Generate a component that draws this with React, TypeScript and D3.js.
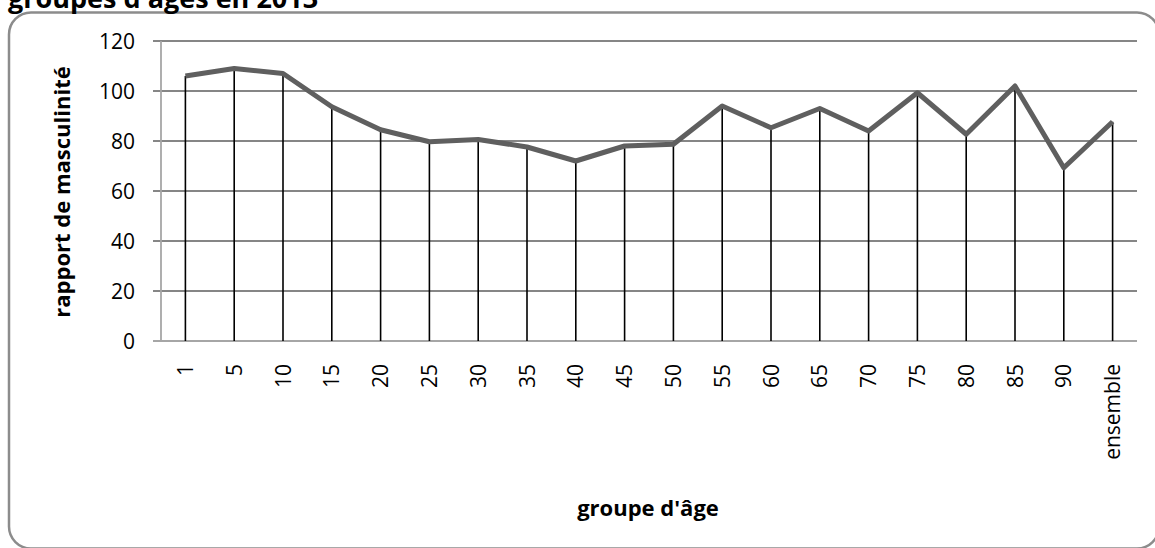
import { useEffect, useRef } from 'react';
import * as d3 from 'd3';

const categories = ['1', '5', '10', '15', '20', '25', '30', '35', '40', '45', '50', '55', '60', '65', '70', '75', '80', '85', '90', 'ensemble'];
const ratios = [106, 109, 107, 93.7, 84.5, 79.7, 80.6, 77.6, 72, 78, 78.7, 94, 85.3, 93, 84, 99.3, 82.7, 102, 69.3, 87.7];
const yTicks = [0, 20, 40, 60, 80, 100, 120];

const title = "groupes d'âges en 2013";
const yTitle = 'rapport de masculinité';
const xTitle = "groupe d'âge";

const App = () => {
  const ref = useRef<SVGSVGElement | null>(null);

  useEffect(() => {
    if (!ref.current) return;
    const svg = d3.select(ref.current);
    svg.selectAll('*').remove();

    const font = "'Open Sans', sans-serif";
    const left = 161, right = 1137, top = 41, bottom = 341;

    // cadre arrondi
    svg.append('rect')
      .attr('x', 9).attr('y', 12.5)
      .attr('width', 1150).attr('height', 536)
      .attr('rx', 22).attr('ry', 22)
      .attr('fill', 'none')
      .attr('stroke', '#8c8c8c')
      .attr('stroke-width', 2.5);

    svg.append('text')
      .attr('x', 8).attr('y', 8)
      .attr('font-family', font)
      .attr('font-weight', 'bold')
      .attr('font-size', 27)
      .attr('fill', '#000')
      .text(title);

    const x = d3.scaleBand().domain(categories).range([left, right]);
    const y = d3.scaleLinear().domain([0, 120]).range([bottom, top]);
    const cx = (c: string) => (x(c) || 0) + x.bandwidth() / 2;

    // grille
    svg.append('g')
      .selectAll('line')
      .data(yTicks.filter(t => t > 0))
      .join('line')
      .attr('x1', left - 8).attr('x2', right)
      .attr('y1', d => y(d)).attr('y2', d => y(d))
      .attr('stroke', '#868686')
      .attr('stroke-width', 1.8);

    // axes
    svg.append('line')
      .attr('x1', left).attr('x2', left)
      .attr('y1', top).attr('y2', bottom)
      .attr('stroke', '#a6a6a6').attr('stroke-width', 1.8);
    svg.append('line')
      .attr('x1', left - 8).attr('x2', right)
      .attr('y1', bottom).attr('y2', bottom)
      .attr('stroke', '#a6a6a6').attr('stroke-width', 1.8);

    svg.append('g')
      .selectAll('text')
      .data(yTicks)
      .join('text')
      .attr('x', left - 26)
      .attr('y', d => y(d))
      .attr('dy', '0.36em')
      .attr('text-anchor', 'end')
      .attr('font-family', font)
      .attr('font-size', 21)
      .attr('fill', '#000')
      .text(d => d);

    // lignes de projection
    svg.append('g')
      .selectAll('line')
      .data(ratios)
      .join('line')
      .attr('x1', (_, i) => cx(categories[i]))
      .attr('x2', (_, i) => cx(categories[i]))
      .attr('y1', d => y(d)).attr('y2', bottom)
      .attr('stroke', '#000')
      .attr('stroke-width', 1.6);

    const line = d3.line<number>()
      .x((_, i) => cx(categories[i]))
      .y(d => y(d));

    svg.append('path')
      .datum(ratios)
      .attr('d', line)
      .attr('fill', 'none')
      .attr('stroke', '#5f5f5f')
      .attr('stroke-width', 5)
      .attr('stroke-linejoin', 'round');

    // étiquettes x
    svg.append('g')
      .selectAll('text')
      .data(categories)
      .join('text')
      .attr('transform', d => `translate(${cx(d)}, 364) rotate(-90)`)
      .attr('dy', '0.36em')
      .attr('text-anchor', 'end')
      .attr('font-family', font)
      .attr('font-size', 21)
      .attr('fill', '#000')
      .text(d => d);

    svg.append('text')
      .attr('transform', `translate(70, ${(top + bottom) / 2 + 1}) rotate(-90)`)
      .attr('text-anchor', 'middle')
      .attr('font-family', font)
      .attr('font-weight', 'bold')
      .attr('font-size', 22)
      .attr('fill', '#000')
      .text(yTitle);

    svg.append('text')
      .attr('x', 648).attr('y', 516)
      .attr('text-anchor', 'middle')
      .attr('font-family', font)
      .attr('font-weight', 'bold')
      .attr('font-size', 22)
      .attr('fill', '#000')
      .text(xTitle);
  }, []);

  return (
    <svg ref={ref} width={1155} height={548}
      style={{ position: 'absolute', left: 0, top: 0, background: '#fff' }} />
  );
};

export default App;
